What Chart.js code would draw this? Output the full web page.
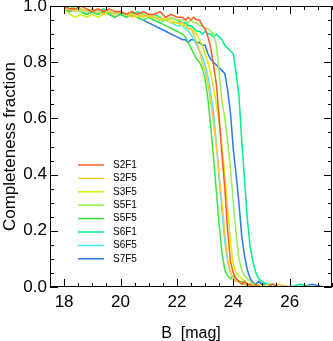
<!DOCTYPE html>
<html>
<head>
<meta charset="utf-8">
<script src="https://cdn.jsdelivr.net/npm/chart.js@4"></script>
<style>
  html, body { margin: 0; padding: 0; background: #fff; }
</style>
</head>
<body>
<canvas id="myChart" width="333" height="341"></canvas>
<script>
// B magnitude grid (finer where the curves fall off)
const mags = [
  18.0, 18.2, 18.4, 18.6, 18.8, 19.0, 19.2, 19.4, 19.6, 19.8, 20.0, 20.2, 20.4, 20.6, 20.8, 21.0, 21.2, 21.4, 21.6, 21.8, 22.0, 22.2,
  22.3, 22.4, 22.5, 22.6, 22.7, 22.8, 22.9, 23.0, 23.1, 23.2, 23.3, 23.4, 23.5, 23.6, 23.7, 23.8, 23.9, 24.0,
  24.1, 24.2, 24.3, 24.4, 24.5, 24.6, 24.7, 24.8, 24.9, 25.0,
  25.2, 25.4, 25.6, 26.0, 26.4, 26.8, 27.2, 27.5
]
const names = ['S2F1', 'S2F5', 'S3F5', 'S5F1', 'S5F5', 'S6F1', 'S6F5', 'S7F5']
const s2f1 = [1.0, .99, .99, 1.0, .99, .98, .99, .98, .99, .98, .98, .97, .98, .97, .98, .97, .97, .98, .96, .97, .96, .96,
  .95, .96, .95, .96, .95, .95, .93, .92, .89, .85, .79, .72, .60, .47, .35, .20, .09, .05,
  .03, .02, .01, .02, .01, .01, 0, .01, 0, 0,
  0, .01, 0, 0, 0, 0, 0, 0]
const s2f5 = [.99, .99, .98, .99, .98, .99, .98, .97, .98, .97, .98, .97, .96, .97, .96, .97, .96, .95, .96, .95, .94, .94,
  .93, .92, .92, .90, .87, .84, .80, .77, .72, .66, .58, .50, .40, .30, .19, .10, .05, .03,
  .02, .02, .01, .01, 0, .01, 0, 0, 0, 0,
  0, 0, .01, 0, 0, 0, 0, 0]
const s3f5 = [.99, .97, .96, .97, .96, .97, .96, .97, .98, .97, .98, .97, .97, .96, .97, .96, .96, .95, .95, .94, .94, .93,
  .93, .92, .92, .91, .90, .88, .86, .83, .80, .76, .71, .65, .58, .50, .40, .28, .16, .08,
  .05, .04, .03, .02, .01, .01, 0, 0, .01, 0,
  0, 0, 0, 0, 0, 0, 0, 0]
const s5f1 = [.99, 1.0, .99, .98, .99, .98, .99, .98, .98, .97, .98, .97, .98, .97, .96, .97, .96, .96, .95, .96, .95, .95,
  .95, .94, .95, .94, .94, .93, .93, .92, .92, .91, .90, .86, .76, .66, .60, .52, .42, .30,
  .19, .10, .06, .04, .03, .02, .01, .01, 0, 0,
  .01, 0, 0, 0, 0, 0, 0, 0]
const s5f5 = [.99, .98, .99, .98, .97, .98, .97, .98, .97, .96, .97, .96, .97, .96, .95, .96, .95, .94, .93, .92, .91, .90,
  .89, .87, .85, .83, .81, .80, .78, .74, .67, .57, .46, .34, .22, .12, .06, .04, .03, .04,
  .03, .02, .02, .01, .01, 0, 0, 0, 0, 0,
  0, 0, 0, 0, 0, 0, 0, 0]
const s6f1 = [1.0, .99, 1.0, .99, .98, .99, .98, .99, .98, .97, .98, .97, .97, .98, .97, .96, .97, .96, .95, .96, .95, .94,
  .94, .93, .93, .92, .91, .91, .90, .91, .90, .90, .89, .90, .89, .88, .86, .85, .84, .83,
  .76, .68, .52, .38, .24, .14, .09, .05, .03, .02,
  .01, .01, 0, 0, .01, 0, 0, 0]
const s6f5 = [.99, .99, .98, .99, .98, .98, .97, .98, .97, .98, .97, .96, .97, .96, .97, .96, .95, .94, .95, .94, .93, .93,
  .92, .91, .90, .88, .86, .84, .82, .79, .75, .69, .62, .51, .39, .27, .16, .09, .05, .03,
  .02, .02, .01, .01, 0, 0, 0, 0, 0, 0,
  0, 0, 0, 0, 0, 0, 0, 0]
const s7f5 = [.99, .98, .99, .98, .97, .98, .97, .98, .97, .96, .97, .96, .97, .96, .95, .94, .93, .92, .91, .90, .89, .88,
  .88, .87, .88, .88, .87, .87, .86, .86, .83, .81, .80, .79, .78, .77, .76, .70, .62, .49,
  .40, .30, .18, .11, .06, .03, .015, .01, .02, .01,
  .01, 0, 0, 0, 0, .01, 0, 0]
const xTicks = [18, 20, 22, 24, 26]
const yTicks = [0, 0.2, 0.4, 0.6, 0.8, 1.0]

const series = [s2f1, s2f5, s3f5, s5f1, s5f5, s6f1, s6f5, s7f5]
const colors = ['#ff5a28', '#ffc832', '#d2f000', '#96f050', '#3ce63c', '#00f08c', '#46e6ff', '#2878f0']

// frame, inward ticks on all four sides, and the legend inside the plot
const frameTicks = {
  id: 'frameTicks',
  afterDatasetsDraw(chart) {
    const { ctx, chartArea: a, scales: { x, y } } = chart
    ctx.save()
    ctx.strokeStyle = '#000'
    ctx.lineWidth = 1
    ctx.strokeRect(a.left + 0.5, a.top + 0.5, a.right - a.left - 1, a.bottom - a.top - 1)
    ctx.beginPath()
    for (let v = 17.5; v <= 27.5; v += 0.5) {
      const px = Math.round(x.getPixelForValue(v)) + 0.5
      const len = xTicks.includes(v) ? 8 : 4
      ctx.moveTo(px, a.bottom); ctx.lineTo(px, a.bottom - len)
      ctx.moveTo(px, a.top); ctx.lineTo(px, a.top + len)
    }
    for (let i = 0; i <= 20; i++) {
      const py = Math.round(y.getPixelForValue(i * 0.05)) + 0.5
      const len = i % 4 === 0 ? 8 : 4
      ctx.moveTo(a.left, py); ctx.lineTo(a.left + len, py)
      ctx.moveTo(a.right, py); ctx.lineTo(a.right - len, py)
    }
    ctx.stroke()

    ctx.font = '10px "Liberation Sans", Arial, sans-serif'
    ctx.textBaseline = 'middle'
    ctx.fillStyle = '#000'
    chart.data.datasets.forEach((ds, i) => {
      const ly = a.top + 159 + i * 13.4
      ctx.strokeStyle = ds.borderColor
      ctx.lineWidth = 1.5
      ctx.beginPath()
      ctx.moveTo(a.left + 28, ly); ctx.lineTo(a.left + 54, ly)
      ctx.stroke()
      ctx.fillText(ds.label, a.left + 63, ly)
    })
    ctx.restore()
  }
}

const font = { family: '"Liberation Sans", Arial, sans-serif', size: 17 }
const noPad = s => { s.paddingTop = 0; s.paddingBottom = 0; s.paddingLeft = 0; s.paddingRight = 0 }

new Chart(document.getElementById('myChart'), {
  type: 'line',
  data: {
    datasets: series.map((vals, i) => ({
      label: names[i],
      data: mags.map((m, j) => ({ x: m, y: vals[j] })),
      borderColor: colors[i],
      borderWidth: 1.5,
      pointRadius: 0,
      tension: 0,
      fill: false
    }))
  },
  options: {
    responsive: false,
    animation: false,
    events: [],
    layout: { autoPadding: false, padding: { top: 6, right: 1, left: 0, bottom: 0 } },
    plugins: { legend: { display: false }, tooltip: { enabled: false } },
    scales: {
      x: {
        type: 'linear',
        min: 17.5,
        max: 27.5,
        afterBuildTicks: s => { s.ticks = xTicks.map(v => ({ value: v })) },
        afterFit: s => { s.height = 54; noPad(s) },
        grid: { display: false, drawTicks: false },
        border: { display: false },
        ticks: { color: '#000', font, padding: 5, maxRotation: 0, callback: v => String(v) },
        title: { display: true, text: 'B  [mag]', color: '#000', font: { ...font, size: 16 }, padding: { top: 6, bottom: -2 } }
      },
      y: {
        type: 'linear',
        min: 0,
        max: 1,
        afterBuildTicks: s => { s.ticks = yTicks.map(v => ({ value: v })) },
        afterFit: s => { s.width = 50; noPad(s) },
        grid: { display: false, drawTicks: false },
        border: { display: false },
        ticks: { color: '#000', font, padding: 3, callback: v => v.toFixed(1) },
        title: { display: true, text: 'Completeness fraction', color: '#000', font, padding: { top: 0, bottom: 0 } }
      }
    }
  },
  plugins: [frameTicks]
})
</script>
</body>
</html>
